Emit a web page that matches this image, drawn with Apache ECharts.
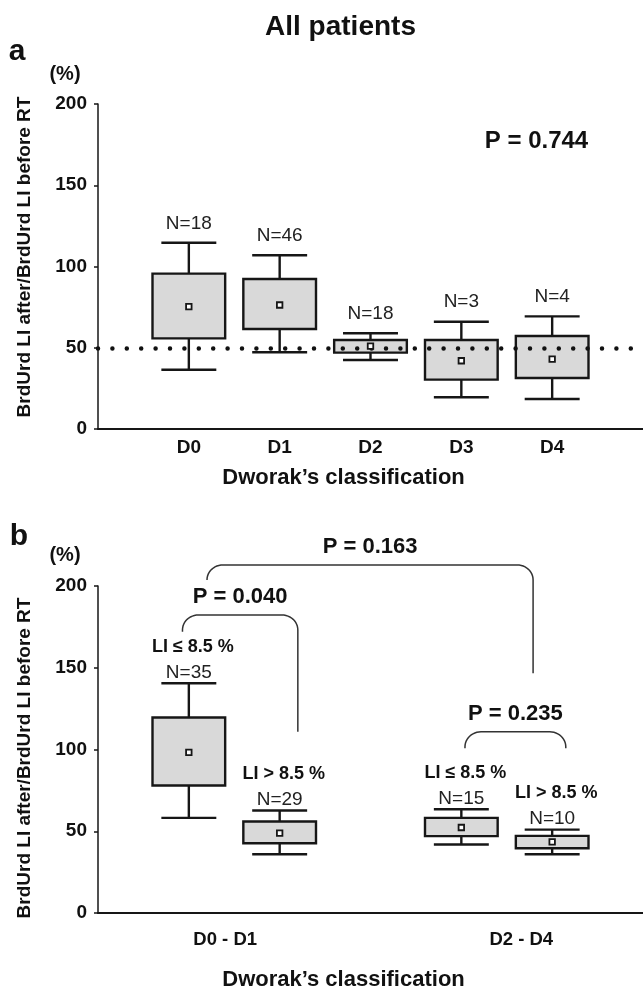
<!DOCTYPE html>
<html><head><meta charset="utf-8">
<script src="https://cdn.jsdelivr.net/npm/echarts@6/dist/echarts.min.js"></script>
<style>html,body{margin:0;padding:0;background:#fff}#c{width:643px;height:992px}</style>
</head><body><div id="c"></div>
<script>
// ---------- Panel a data ----------
const catsA = ['D0', 'D1', 'D2', 'D3', 'D4'];
const posA = [1, 2, 3, 4, 5];
const lowA = [36.5, 47.2, 42.5, 19.5, 18.5];
const q1A = [55.8, 61.5, 47.0, 30.4, 31.4];
const q3A = [95.6, 92.3, 54.8, 54.8, 57.2];
const highA = [114.6, 106.9, 58.9, 66.0, 69.3];
const meanA = [75.3, 76.3, 51.0, 42.0, 43.0];
const nA = ['N=18', 'N=46', 'N=18', 'N=3', 'N=4'];
const refLineA = 50;
const pA = 'P = 0.744';

// ---------- Panel b data ----------
const catsB = ['D0 - D1', 'D2 - D4'];
const catPosB = [1.4, 4.66];
const posB = [1, 2, 4, 5];
const groupB = ['LI ≤ 8.5 %', 'LI > 8.5 %', 'LI ≤ 8.5 %', 'LI > 8.5 %'];
const lowB = [58.2, 35.9, 41.9, 35.9];
const q1B = [78.0, 42.7, 47.0, 39.6];
const q3B = [119.6, 56.0, 58.2, 47.2];
const highB = [140.5, 62.7, 63.5, 51.0];
const meanB = [98.2, 48.8, 52.3, 43.5];
const nB = ['N=35', 'N=29', 'N=15', 'N=10'];

// comparison brackets (panel b)
const brX1 = [0.93, 1.2, 4.04];
const brX2 = [2.2, 4.79, 5.15];
const brTop = [182.3, 212.9, 110.8];
const brLeftEnd = [172, 203.7, 100.7];
const brRightEnd = [110.8, 146.6, 100.7];
const brP = ['P = 0.040', 'P = 0.163', 'P = 0.235'];

// y-axis ticks
const yMin = 0, yMax = 200, yStep = 50;
const xMin = 0, xMax = 6;

const FONT = '"Liberation Sans", Arial, Helvetica, sans-serif';
const INK = '#161616';

function boxRenderer(nLabels, topLabels, nGap, topGap) {
  return function (params, api) {
    const x = api.value(0);
    const pLow = api.coord([x, api.value(1)]);
    const pQ1 = api.coord([x, api.value(2)]);
    const pQ3 = api.coord([x, api.value(3)]);
    const pHigh = api.coord([x, api.value(4)]);
    const unit = api.size([1, 0])[0];
    const bw = unit * 0.8, cw = unit * 0.605;
    const cx = pLow[0];
    const ls = { stroke: INK, lineWidth: 2.4 };
    const i = params.dataIndex;
    const children = [
      { type: 'line', shape: { x1: cx, y1: pLow[1], x2: cx, y2: pQ1[1] }, style: ls },
      { type: 'line', shape: { x1: cx, y1: pQ3[1], x2: cx, y2: pHigh[1] }, style: ls },
      { type: 'line', shape: { x1: cx - cw / 2, y1: pLow[1], x2: cx + cw / 2, y2: pLow[1] }, style: ls },
      { type: 'line', shape: { x1: cx - cw / 2, y1: pHigh[1], x2: cx + cw / 2, y2: pHigh[1] }, style: ls },
      { type: 'rect', shape: { x: cx - bw / 2, y: pQ3[1], width: bw, height: pQ1[1] - pQ3[1] },
        style: { fill: '#d9d9d9', stroke: INK, lineWidth: 2.4 } },
      { type: 'text', style: { text: nLabels[i], x: cx, y: pHigh[1] - nGap, align: 'center', verticalAlign: 'middle',
        fontSize: 19, fontFamily: FONT, fill: '#222' } }
    ];
    if (topLabels) {
      children.push({ type: 'text', style: { text: topLabels[i], x: cx + 4, y: pHigh[1] - nGap - topGap,
        align: 'center', verticalAlign: 'middle', fontSize: 18, fontWeight: 'bold', fontFamily: FONT, fill: '#111' } });
    }
    return { type: 'group', children: children };
  };
}

function bracketRenderer(params, api) {
  const i = params.dataIndex;
  const a = api.coord([api.value(0), api.value(2)]);
  const b = api.coord([api.value(1), api.value(2)]);
  const lEnd = api.coord([api.value(0), api.value(3)]);
  const rEnd = api.coord([api.value(1), api.value(4)]);
  const top = a[1];
  const rx = 16, ryMax = 15;
  const pts = [];
  const ryL = Math.min(ryMax, lEnd[1] - top);
  const ryR = Math.min(ryMax, rEnd[1] - top);
  pts.push([a[0], lEnd[1]]);
  for (let k = 0; k <= 12; k++) {
    const t = Math.PI - (k / 12) * (Math.PI / 2);
    pts.push([a[0] + rx + rx * Math.cos(t), top + ryL - ryL * Math.sin(t)]);
  }
  for (let k = 0; k <= 12; k++) {
    const t = Math.PI / 2 - (k / 12) * (Math.PI / 2);
    pts.push([b[0] - rx + rx * Math.cos(t), top + ryR - ryR * Math.sin(t)]);
  }
  pts.push([b[0], rEnd[1]]);
  return {
    type: 'group',
    children: [
      { type: 'polyline', shape: { points: pts }, style: { stroke: '#333', lineWidth: 1.5, fill: null } },
      { type: 'text', style: { text: brP[i], x: (a[0] + b[0]) / 2, y: top - 18, align: 'center', verticalAlign: 'middle',
        fontSize: 22, fontWeight: 'bold', fontFamily: FONT, fill: '#111' } }
    ]
  };
}

function lookup(vals, labels) {
  return function (v) {
    for (let k = 0; k < vals.length; k++) if (Math.abs(vals[k] - v) < 1e-6) return labels[k];
    return '';
  };
}

const yAxisCommon = {
  type: 'value', min: yMin, max: yMax, interval: yStep,
  axisLine: { show: true, lineStyle: { color: INK, width: 1.5 } },
  axisTick: { show: true, length: 4, lineStyle: { color: INK, width: 1.5 } },
  axisLabel: { fontSize: 19, fontWeight: 'bold', fontFamily: FONT, color: '#111', margin: 11 },
  splitLine: { show: false }
};

const option = {
  animation: false,
  backgroundColor: '#fff',
  grid: [
    { left: 98, top: 104, width: 545, height: 325 },
    { left: 98, top: 586, width: 545, height: 327 }
  ],
  xAxis: [
    { gridIndex: 0, type: 'value', min: xMin, max: xMax,
      axisLine: { show: true, onZero: false, lineStyle: { color: INK, width: 2.2 } },
      axisTick: { show: false }, splitLine: { show: false },
      axisLabel: { customValues: posA, formatter: lookup(posA, catsA), fontSize: 19, fontWeight: 'bold',
        fontFamily: FONT, color: '#111', margin: 9 } },
    { gridIndex: 1, type: 'value', min: xMin, max: xMax,
      axisLine: { show: true, onZero: false, lineStyle: { color: INK, width: 2.2 } },
      axisTick: { show: false }, splitLine: { show: false },
      axisLabel: { customValues: catPosB, formatter: lookup(catPosB, catsB), fontSize: 18.5, fontWeight: 'bold',
        fontFamily: FONT, color: '#111', margin: 17 } }
  ],
  yAxis: [
    Object.assign({ gridIndex: 0 }, yAxisCommon),
    Object.assign({ gridIndex: 1 }, yAxisCommon)
  ],
  series: [
    { type: 'custom', xAxisIndex: 0, yAxisIndex: 0, z: 2, clip: false,
      renderItem: boxRenderer(nA, null, 19.5, 0),
      encode: { x: 0, y: [1, 2, 3, 4] },
      data: posA.map((p, i) => [p, lowA[i], q1A[i], q3A[i], highA[i]]) },
    { type: 'scatter', xAxisIndex: 0, yAxisIndex: 0, z: 6,
      symbol: 'rect', symbolSize: 5.5,
      itemStyle: { color: '#fff', borderColor: INK, borderWidth: 1.8, opacity: 1 },
      data: posA.map((p, i) => [p, meanA[i]]),
      markLine: { silent: true, symbol: ['none', 'none'], label: { show: false },
        lineStyle: { type: [0, 14.4], cap: 'round', width: 4.5, color: '#111' },
        data: [{ yAxis: refLineA }] } },
    { type: 'custom', xAxisIndex: 1, yAxisIndex: 1, z: 2, clip: false,
      renderItem: boxRenderer(nB, groupB, 10.5, 26),
      encode: { x: 0, y: [1, 2, 3, 4] },
      data: posB.map((p, i) => [p, lowB[i], q1B[i], q3B[i], highB[i]]) },
    { type: 'scatter', xAxisIndex: 1, yAxisIndex: 1, z: 6,
      symbol: 'rect', symbolSize: 5.5,
      itemStyle: { color: '#fff', borderColor: INK, borderWidth: 1.8, opacity: 1 },
      data: posB.map((p, i) => [p, meanB[i]]) },
    { type: 'custom', xAxisIndex: 1, yAxisIndex: 1, z: 3, clip: false,
      renderItem: bracketRenderer,
      encode: { x: [0, 1], y: [2, 3, 4] },
      data: brX1.map((x, i) => [x, brX2[i], brTop[i], brLeftEnd[i], brRightEnd[i]]) }
  ],
  graphic: [
    { type: 'text', x: 340.5, y: 27, style: { text: 'All patients', align: 'center', verticalAlign: 'middle',
      fontSize: 28, fontWeight: 'bold', fontFamily: FONT, fill: '#111' } },
    { type: 'text', x: 17, y: 52, style: { text: 'a', align: 'center', verticalAlign: 'middle',
      fontSize: 30, fontWeight: 'bold', fontFamily: FONT, fill: '#111' } },
    { type: 'text', x: 65, y: 74, style: { text: '(%)', align: 'center', verticalAlign: 'middle',
      fontSize: 20, fontWeight: 'bold', fontFamily: FONT, fill: '#111' } },
    { type: 'text', x: 25, y: 257, rotation: Math.PI / 2, style: { text: 'BrdUrd LI after/BrdUrd LI before RT',
      align: 'center', verticalAlign: 'middle', fontSize: 19, fontWeight: 'bold', fontFamily: FONT, fill: '#111' } },
    { type: 'text', x: 536.5, y: 141, style: { text: pA, align: 'center', verticalAlign: 'middle',
      fontSize: 24, fontWeight: 'bold', fontFamily: FONT, fill: '#111' } },
    { type: 'text', x: 343.5, y: 478, style: { text: 'Dworak’s classification', align: 'center', verticalAlign: 'middle',
      fontSize: 22, fontWeight: 'bold', fontFamily: FONT, fill: '#111' } },
    { type: 'text', x: 19, y: 537, style: { text: 'b', align: 'center', verticalAlign: 'middle',
      fontSize: 30, fontWeight: 'bold', fontFamily: FONT, fill: '#111' } },
    { type: 'text', x: 65, y: 555, style: { text: '(%)', align: 'center', verticalAlign: 'middle',
      fontSize: 20, fontWeight: 'bold', fontFamily: FONT, fill: '#111' } },
    { type: 'text', x: 25, y: 758, rotation: Math.PI / 2, style: { text: 'BrdUrd LI after/BrdUrd LI before RT',
      align: 'center', verticalAlign: 'middle', fontSize: 19, fontWeight: 'bold', fontFamily: FONT, fill: '#111' } },
    { type: 'text', x: 343.5, y: 980, style: { text: 'Dworak’s classification', align: 'center', verticalAlign: 'middle',
      fontSize: 22, fontWeight: 'bold', fontFamily: FONT, fill: '#111' } }
  ]
};

const chart = echarts.init(document.getElementById('c'), null, { renderer: 'canvas' });
chart.setOption(option);
</script>
</body></html>
